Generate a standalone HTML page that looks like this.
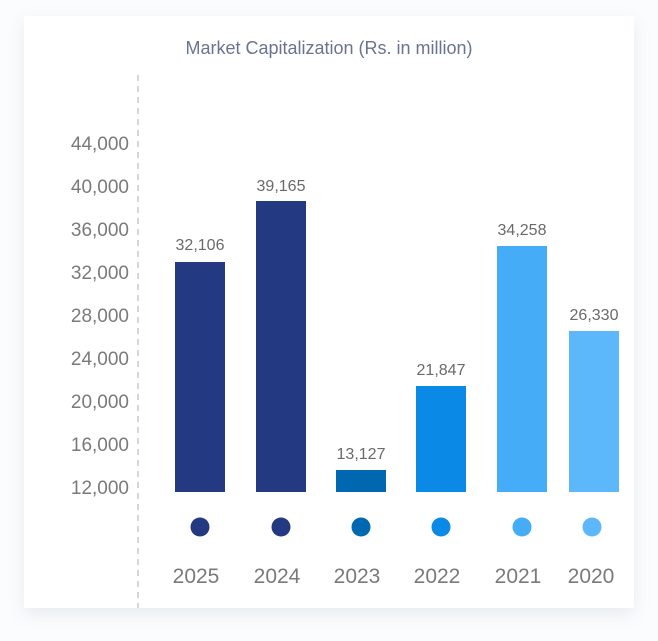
<!DOCTYPE html>
<html><head><style>
body{margin:0;width:658px;height:641px;background:#fbfcfd;overflow:hidden;font-family:"Liberation Sans",sans-serif}
.card{position:absolute;left:24px;top:16px;width:610px;height:592px;background:#fff;box-shadow:0 6px 16px rgba(120,140,170,0.15)}
</style></head><body>
<div class="card"></div>
<svg width="658" height="641" style="position:absolute;left:0;top:0" font-family="Liberation Sans, sans-serif">
<text x="329" y="54" text-anchor="middle" font-size="18" fill="#6b7394">Market Capitalization (Rs. in million)</text>
<line x1="138" y1="75" x2="138" y2="608" stroke="#c8c8cc" stroke-width="1.5" stroke-dasharray="6,5"/>
<g font-size="19" fill="#7a7a7a" text-anchor="end">
<text x="129" y="150">44,000</text><text x="129" y="193">40,000</text><text x="129" y="236">36,000</text>
<text x="129" y="279">32,000</text><text x="129" y="322">28,000</text><text x="129" y="365">24,000</text>
<text x="129" y="408">20,000</text><text x="129" y="451">16,000</text><text x="129" y="494">12,000</text>
</g>
<rect x="175" y="262" width="50" height="230" fill="#233a83"/>
<rect x="256" y="201" width="50" height="291" fill="#233a83"/>
<rect x="336" y="470" width="50" height="22" fill="#0067b1"/>
<rect x="416" y="386" width="50" height="106" fill="#0a8ae6"/>
<rect x="497" y="246" width="50" height="246" fill="#45adf7"/>
<rect x="569" y="331" width="50" height="161" fill="#5cb8fb"/>
<g font-size="16" fill="#6a6a6a" text-anchor="middle">
<text x="200" y="250">32,106</text><text x="281" y="191">39,165</text><text x="361" y="459">13,127</text>
<text x="441" y="375">21,847</text><text x="522" y="235">34,258</text><text x="594" y="320">26,330</text>
</g>
<circle cx="200" cy="527" r="9.5" fill="#233a83"/><circle cx="281" cy="527" r="9.5" fill="#233a83"/>
<circle cx="361" cy="527" r="9.5" fill="#0067b1"/><circle cx="441" cy="527" r="9.5" fill="#0a8ae6"/>
<circle cx="522" cy="527" r="9.5" fill="#45adf7"/><circle cx="592" cy="527" r="9.5" fill="#5cb8fb"/>
<g font-size="21" fill="#7a7a7a" text-anchor="middle">
<text x="196" y="583">2025</text><text x="277" y="583">2024</text><text x="357" y="583">2023</text>
<text x="437" y="583">2022</text><text x="518" y="583">2021</text><text x="591" y="583">2020</text>
</g>
</svg>
</body></html>
